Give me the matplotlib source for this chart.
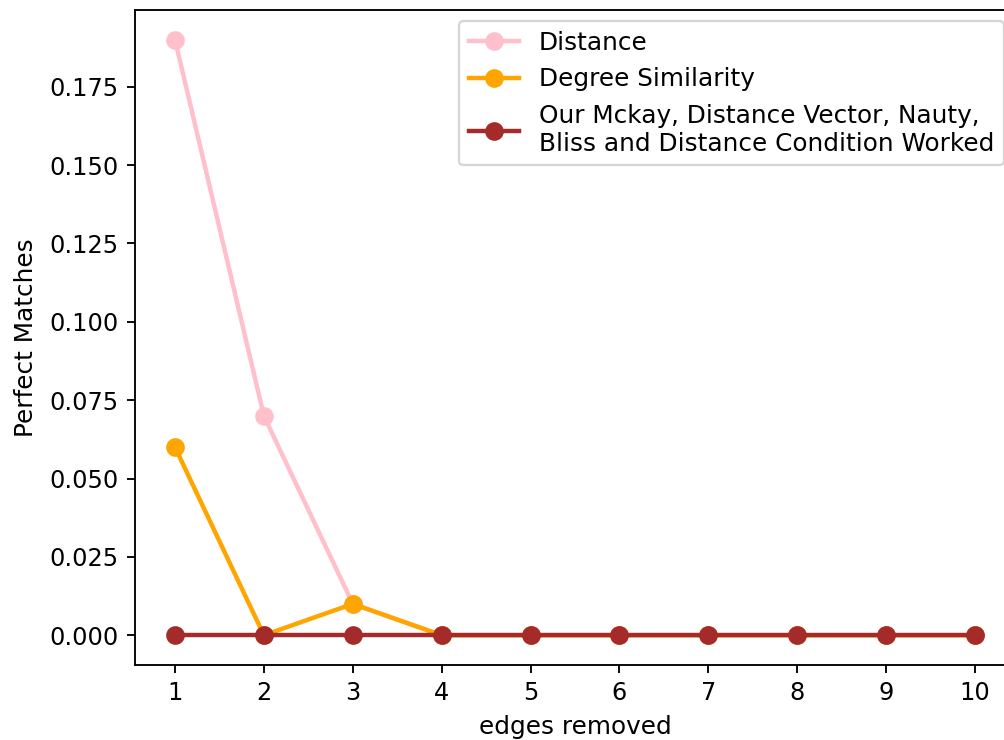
import matplotlib
matplotlib.use("Agg")
import matplotlib.pyplot as plt

edges_removed = [1, 2, 3, 4, 5, 6, 7, 8, 9, 10]
distance = [0.19, 0.07, 0.01, 0, 0, 0, 0, 0, 0, 0]
degree_similarity = [0.06, 0, 0.01, 0, 0, 0, 0, 0, 0, 0]
worked = [0, 0, 0, 0, 0, 0, 0, 0, 0, 0]

labels = [
    "Distance",
    "Degree Similarity",
    "Our Mckay, Distance Vector, Nauty,\nBliss and Distance Condition Worked",
]
colors = ["pink", "orange", "brown"]

plt.rcParams["font.size"] = 10.6
plt.rcParams["xtick.labelsize"] = 10.3
plt.rcParams["ytick.labelsize"] = 10.3

fig = plt.figure(figsize=(1004 / 168, 740 / 168), dpi=168)
# the original was cropped on the right, so the axes run past the edge
ax = fig.add_axes([135 / 1004, 75 / 740, 880 / 1004, 655 / 740])

for series, label, color in zip([distance, degree_similarity, worked], labels, colors):
    ax.plot(edges_removed, series, marker="o", color=color, label=label,
            linewidth=1.9, markersize=7)

ax.set_xticks(edges_removed)
ax.set_xlabel("edges removed")
ax.set_ylabel("Perfect Matches", labelpad=5)
ax.legend(loc="upper right", borderaxespad=0.45)

fig.savefig("out.png", dpi=168)
